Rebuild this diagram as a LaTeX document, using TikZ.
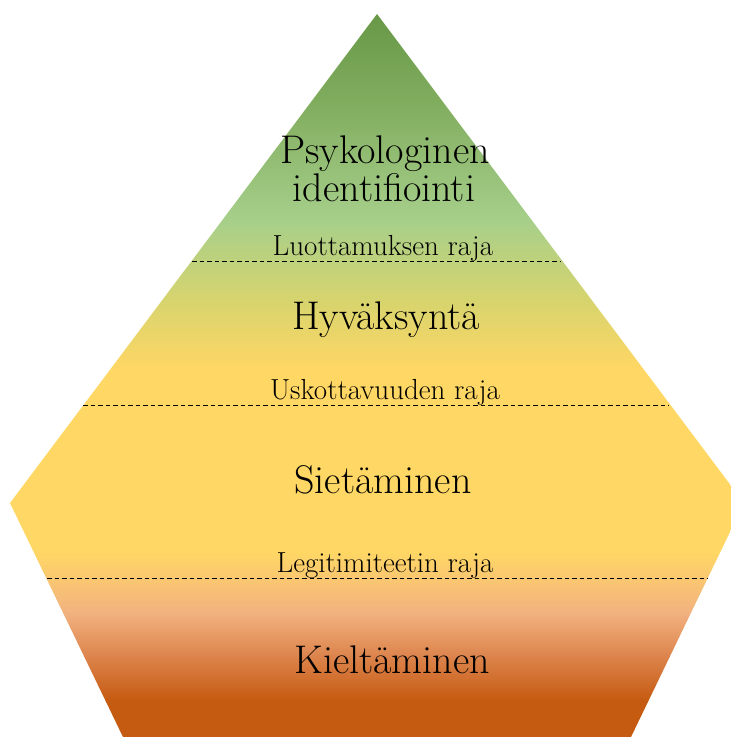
\documentclass[tikz,border=0pt]{standalone}
\usepackage{fontspec}
\definecolor{pbrown}{RGB}{197,90,17}
\definecolor{porange}{RGB}{222,135,80}
\definecolor{psalmon}{RGB}{242,178,128}
\definecolor{pyellow}{RGB}{255,215,100}
\definecolor{pygreen}{RGB}{215,212,110}
\definecolor{plgreen}{RGB}{166,207,138}
\definecolor{pmgreen}{RGB}{128,172,94}
\definecolor{pdgreen}{RGB}{104,152,72}
\pgfdeclareverticalshading{pyrshade}{100bp}{%
  color(0bp)=(pbrown);
  color(25bp)=(pbrown);
  color(27.5bp)=(pbrown);
  color(30.8bp)=(porange);
  color(33.6bp)=(psalmon);
  color(37.8bp)=(pyellow);
  color(50.4bp)=(pyellow);
  color(55.2bp)=(pygreen);
  color(60.8bp)=(plgreen);
  color(69bp)=(pmgreen);
  color(75bp)=(pdgreen);
  color(100bp)=(pdgreen)}
\begin{document}
\begin{tikzpicture}[x=1pt,y=-1pt,
  bigtext/.style={font=\fontsize{40}{38}\selectfont, anchor=base, align=center, inner sep=0pt},
  smalltext/.style={font=\fontsize{29}{30}\selectfont, anchor=base, inner sep=0pt},
  boundary/.style={dashed, dash pattern=on 4.5pt off 3pt, line width=1pt, black}]
\useasboundingbox (0,0) rectangle (731,737);
\begin{scope}
\clip (0,0) rectangle (731,737);
\shade[shading=pyrshade] (377,14) -- (744,503) -- (631,737) -- (123,737) -- (10,503) -- cycle;
\end{scope}
\coordinate (l1a) at (192,261);
\coordinate (l1b) at (561,261);
\coordinate (l2a) at (83,405);
\coordinate (l2b) at (669,405);
\coordinate (l3a) at (47,578);
\coordinate (l3b) at (708,578);
\draw[boundary] (l1a) -- (l1b);
\draw[boundary] (l2a) -- (l2b);
\draw[boundary] (l3a) -- (l3b);
\node[bigtext] (psy) at (385,163) {Psykologinen};
\node[bigtext] (ide) at (384,201) {identifiointi};
\node[smalltext] (luo) at (383,255) {Luottamuksen raja};
\node[bigtext] (hyv) at (386,329) {Hyväksyntä};
\node[smalltext] (usk) at (385,399) {Uskottavuuden raja};
\node[bigtext] (sie) at (383,493) {Sietäminen};
\node[smalltext] (leg) at (385,572) {Legitimiteetin raja};
\node[bigtext] (kie) at (392,673) {Kieltäminen};
\end{tikzpicture}
\end{document}
